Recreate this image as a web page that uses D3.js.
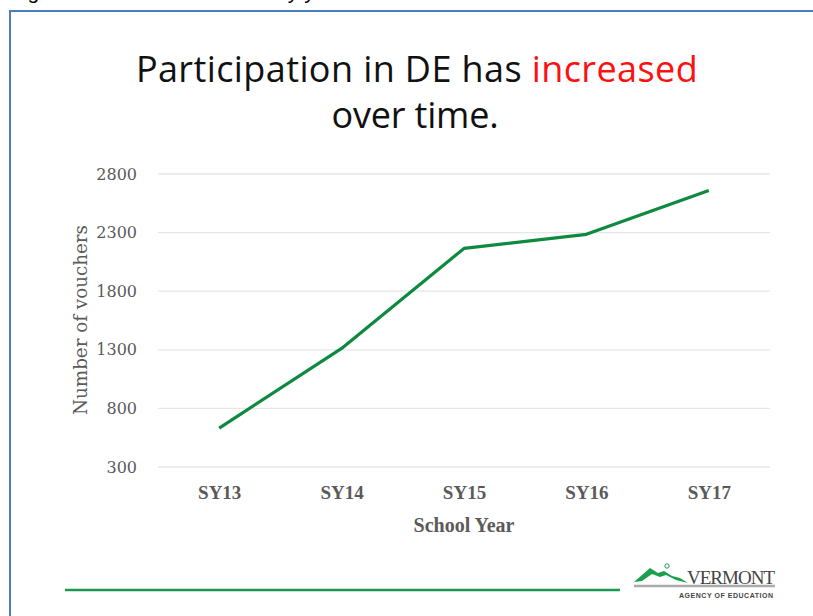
<!DOCTYPE html>
<html><head><meta charset="utf-8">
<script src="https://cdn.jsdelivr.net/npm/d3@7/dist/d3.min.js"></script>
<style>body{margin:0;background:#fff;}svg{display:block;}</style>
</head><body>
<svg id="c" width="813" height="616"></svg>
<script>
const categories = ["SY13","SY14","SY15","SY16","SY17"];
const vouchers = [632, 1312, 2165, 2285, 2660];
const yTicks = [300, 800, 1300, 1800, 2300, 2800];

const svg = d3.select("#c");
const m = {left:158, right:770, top:174, bottom:467};
const serif = "DejaVu Serif, serif";
const grey = "#5a5a5a";

// caption (cut off at top, as in the reference)
svg.append("text").attr("x", 10).attr("y", -1)
  .attr("font-family","Liberation Sans, sans-serif").attr("font-size", 21).attr("fill","#000")
  .text("Figure 1: DE vouchers used by year.");

// frame
svg.append("rect").attr("x", 10).attr("y", 11).attr("width", 830).attr("height", 640)
  .attr("fill","none").attr("stroke","#4a7ebb").attr("stroke-width", 2);

// title
const t = svg.append("text").attr("x", 417).attr("y", 82).attr("text-anchor","middle")
  .attr("font-family","Open Sans, sans-serif").attr("font-size", 36).attr("fill","#111")
  .attr("letter-spacing", 0.4).style("font-variant-ligatures","none");
t.append("tspan").text("Participation in DE has ");
t.append("tspan").attr("fill","#ff1010").text("increased");
svg.append("text").attr("x", 415).attr("y", 128).attr("text-anchor","middle")
  .attr("font-family","Open Sans, sans-serif").attr("font-size", 36).attr("fill","#111")
  .attr("letter-spacing", -0.2).style("font-variant-ligatures","none")
  .text("over time.");

const x = d3.scalePoint().domain(categories).range([m.left, m.right]).padding(0.5);
const y = d3.scaleLinear().domain([300, 2800]).range([m.bottom, m.top]);

// grid
svg.append("g").selectAll("line").data(yTicks).join("line")
  .attr("x1", m.left).attr("x2", m.right)
  .attr("y1", d => y(d)).attr("y2", d => y(d))
  .attr("stroke","#e6e6e6").attr("stroke-width",1.3);

// y axis labels
const yAxis = d3.axisLeft(y).tickValues(yTicks).tickSize(0).tickPadding(0).tickFormat(d3.format("d"));
const gy = svg.append("g").attr("transform",`translate(137,0)`).call(yAxis);
gy.select(".domain").remove();
gy.selectAll("text").attr("font-family",serif).attr("font-size",16).attr("fill",grey);

// x axis labels
const xAxis = d3.axisBottom(x).tickSize(0).tickPadding(0);
const gx = svg.append("g").attr("transform",`translate(0,485)`).call(xAxis);
gx.select(".domain").remove();
gx.selectAll("text").attr("font-family","Liberation Serif, serif").attr("font-size",19)
  .attr("font-weight","bold").attr("fill",grey);

// axis titles
svg.append("text").attr("x", 464).attr("y", 532).attr("text-anchor","middle")
  .attr("font-family","Liberation Serif, serif").attr("font-size",20).attr("font-weight","bold").attr("fill",grey)
  .text("School Year");
svg.append("text").attr("transform","translate(87,320) rotate(-90)").attr("text-anchor","middle")
  .attr("font-family",serif).attr("font-size",18).attr("fill",grey)
  .attr("textLength",190).attr("lengthAdjust","spacingAndGlyphs")
  .text("Number of vouchers");

// line
const line = d3.line().x((d,i) => x(categories[i])).y(d => y(d));
svg.append("path").datum(vouchers).attr("d", line)
  .attr("fill","none").attr("stroke","#0d8a40").attr("stroke-width",3.2).attr("stroke-linejoin","round");

// footer
svg.append("line").attr("x1",65).attr("x2",620).attr("y1",590).attr("y2",590)
  .attr("stroke","#1a9a4c").attr("stroke-width",2.5);
// logo
svg.append("path").attr("d","M634,582 L650,568 L658,573 L664,571 L672,576 L680,578 L688,583 L676,580 L666,575 L660,577 L652,574 L642,581 Z")
  .attr("fill","#1aa04f");
svg.append("circle").attr("cx",667).attr("cy",566).attr("r",2.2).attr("fill","none").attr("stroke","#1aa04f").attr("stroke-width",1);
svg.append("line").attr("x1",634).attr("x2",775).attr("y1",586).attr("y2",586).attr("stroke","#aaa").attr("stroke-width",2.5);
svg.append("text").attr("x",775).attr("y",584).attr("text-anchor","end")
  .attr("font-family","Liberation Serif, serif").attr("font-size",19).attr("fill","#444").attr("textLength",88)
  .text("VERMONT");
svg.append("text").attr("x",773).attr("y",598).attr("text-anchor","end")
  .attr("font-family","Liberation Sans, sans-serif").attr("font-size",7).attr("font-weight","bold").attr("fill","#444").attr("textLength",94)
  .text("AGENCY OF EDUCATION");
</script>
</body></html>
